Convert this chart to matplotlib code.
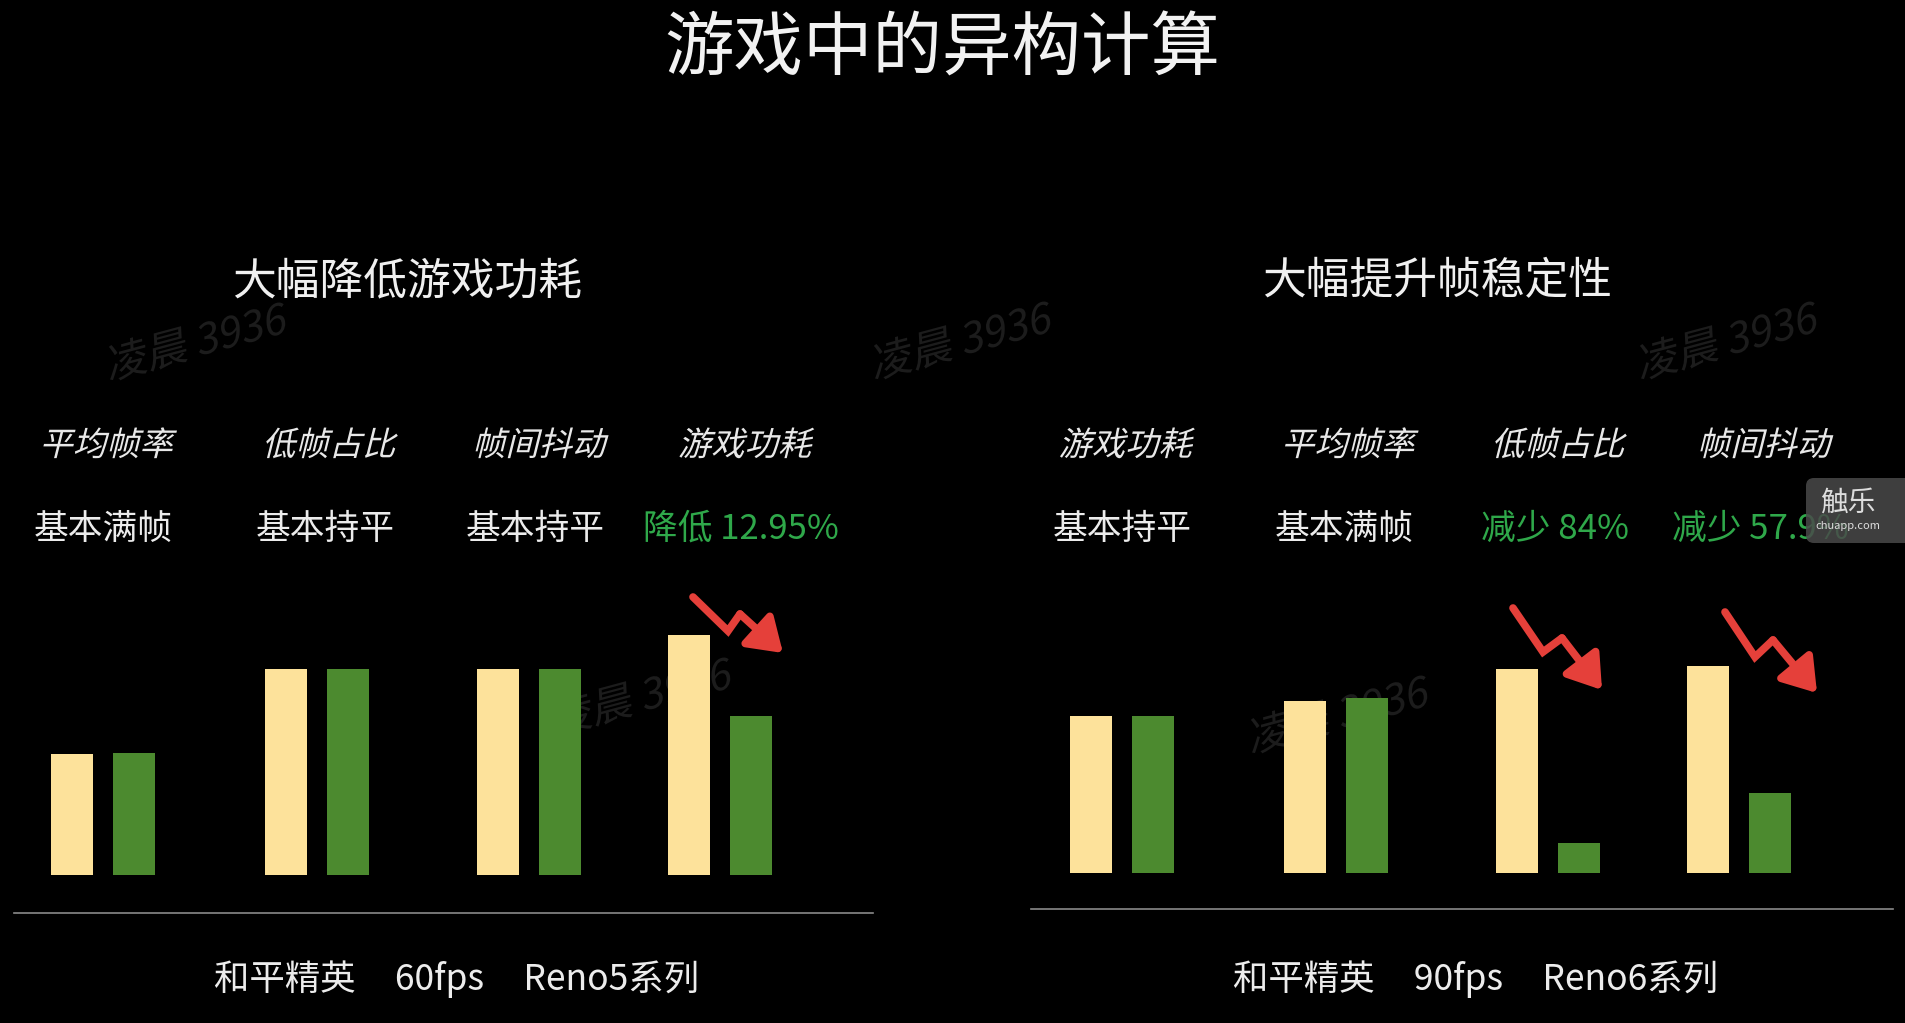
import matplotlib.pyplot as plt
from matplotlib import patheffects
from matplotlib.transforms import Affine2D, blended_transform_factory
from matplotlib.patches import FancyBboxPatch

plt.rcParams['font.family'] = ['Noto Sans CJK SC', 'DejaVu Sans']

# 数据
title = "游戏中的异构计算"
left_title = "大幅降低游戏功耗"
right_title = "大幅提升帧稳定性"

left_metrics = ["平均帧率", "低帧占比", "帧间抖动", "游戏功耗"]
left_results = ["基本满帧", "基本持平", "基本持平", "降低 12.95%"]
left_old = [121, 206, 206, 240]
left_new = [122, 206, 206, 159]
left_caption = "和平精英     60fps     Reno5系列"

right_metrics = ["游戏功耗", "平均帧率", "低帧占比", "帧间抖动"]
right_results = ["基本持平", "基本满帧", "减少 84%", "减少 57.9%"]
right_old = [157, 172, 204, 207]
right_new = [157, 175, 30, 80]
right_caption = "和平精英     90fps     Reno6系列"

# 版面
W, H = 1906, 1023
group_pos = [0, 1.02, 2.03, 2.94]
label_pos = [0, 1.06, 2.06, 3.04]
bar_w = 0.2
off = 0.148
yellow = '#FDE29B'
green = '#4C8A2F'
txt_green = '#2FA84A'
red = '#E5403A'


class Skew(patheffects.AbstractPathEffect):
    # 斜体效果（CJK 字体没有 italic）
    def __init__(self, deg=12):
        super().__init__()
        self.deg = deg

    def draw_path(self, renderer, gc, tpath, affine, rgbFace=None):
        renderer.draw_path(gc, tpath, Affine2D().skew_deg(self.deg, 0) + affine, rgbFace)


fig = plt.figure(figsize=(W / 100, H / 100), dpi=100, facecolor='black')

# 背景水印层
bg = fig.add_axes([0, 0, 1, 1], zorder=-1)
bg.set_xlim(0, W)
bg.set_ylim(H, 0)
bg.axis('off')
for (x, y) in [(195, 345), (960, 344), (1726, 344), (1337, 718), (640, 700)]:
    bg.text(x, y, "凌晨 3936", ha='center', va='center', fontsize=30, rotation=15,
            color='#1c1c1c', path_effects=[Skew(12)])


def make_panel(x0, bottom, center0, old, new, metrics, results):
    # 面板坐标: 1 单位 = 210 px
    ax = fig.add_axes([x0 / W, 1 - bottom / H, 953 / W, 400 / H])
    ax.set_xlim(-(center0 - x0) / 210, (x0 + 953 - center0) / 210)
    ax.set_ylim(0, 400)
    ax.axis('off')
    ax.patch.set_alpha(0)
    xs = list(group_pos)
    ax.bar([x - off for x in xs], old, width=bar_w, color=yellow)
    ax.bar([x + off for x in xs], new, width=bar_w, color=green)
    tr = blended_transform_factory(ax.transData, fig.transFigure)
    for x, m, r in zip(label_pos, metrics, results):
        fig.text(x + 0.015, 1 - 446 / H, m, transform=tr, ha='center', va='center',
                 fontsize=24, color='#e8e8e8', path_effects=[Skew(14)])
        col = txt_green if ('降低' in r or '减少' in r) else '#ececec'
        fig.text(x, 1 - 529 / H, r, transform=tr, ha='center', va='center',
                 fontsize=25, color=col)
    return ax


axl = make_panel(0, 875, 103, left_old, left_new, left_metrics, left_results)
axr = make_panel(953, 873, 1122, right_old, right_new, right_metrics, right_results)

# 覆盖层（像素坐标）
ov = fig.add_axes([0, 0, 1, 1], zorder=5)
ov.set_xlim(0, W)
ov.set_ylim(H, 0)
ov.axis('off')
ov.patch.set_alpha(0)

ov.text(942, 50, title, ha='center', va='center', fontsize=50, color='#f2f2f2')
ov.text(407, 281, left_title, ha='center', va='center', fontsize=31.5, color='#f0f0f0')
ov.text(1437, 281, right_title, ha='center', va='center', fontsize=31.5, color='#f0f0f0')

ov.plot([14, 873], [913, 913], color='#8a8a8a', lw=1.2)
ov.plot([1031, 1893], [909, 909], color='#8a8a8a', lw=1.2)

ov.text(457, 979, left_caption, ha='center', va='center', fontsize=25.5, color='#ececec')
ov.text(1476, 979, right_caption, ha='center', va='center', fontsize=25.5, color='#ececec')

# 红色折线箭头
arrows = [
    [(693, 597), (728, 631), (740, 614), (783, 653)],
    [(1513, 608), (1543, 652), (1562, 638), (1602, 690)],
    [(1725, 612), (1755, 657), (1773, 640), (1817, 693)],
]
for pts in arrows:
    xs = [p[0] for p in pts[:3]]
    ys = [p[1] for p in pts[:3]]
    ov.plot(xs, ys, color=red, lw=5.5, solid_joinstyle='miter', solid_capstyle='round')
    ov.annotate('', xy=pts[3], xytext=pts[2],
                arrowprops=dict(arrowstyle='-|>,head_length=0.9,head_width=0.6',
                                color=red, lw=5.5, mutation_scale=22,
                                shrinkA=0, shrinkB=0))

# 触乐水印
box = FancyBboxPatch((1806, 478), 140, 65, boxstyle='round,pad=0,rounding_size=8',
                     facecolor='#4a4a4a', edgecolor='none', alpha=0.85)
ov.add_patch(box)
ov.text(1848, 503, "触乐", ha='center', va='center', fontsize=20, color='#dddddd')
ov.text(1848, 526, "chuapp.com", ha='center', va='center', fontsize=8, color='#dddddd')

fig.savefig('out.png', dpi=100, facecolor='black')
